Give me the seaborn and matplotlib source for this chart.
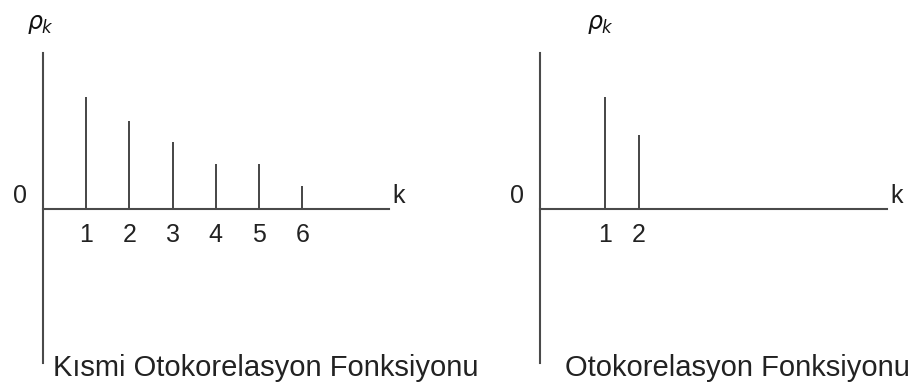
import numpy as np
import pandas as pd
import seaborn as sns
import matplotlib.pyplot as plt

# Werte
pacf_lags = ["1", "2", "3", "4", "5", "6"]
pacf_pos = [1, 2, 3, 4, 5, 6]
pacf_vals = [0.72, 0.57, 0.43, 0.29, 0.29, 0.15]

acf_lags = ["1", "2"]
acf_pos = [1.5, 2.29]
acf_vals = [0.72, 0.48]

titles = ["Kısmi Otokorelasyon Fonksiyonu", "Otokorelasyon Fonksiyonu"]

sns.set_style("white")
plt.rcParams["font.family"] = ["Liberation Sans", "DejaVu Sans"]

line_col = "#4a4a4a"
W, H = 913, 387
fig = plt.figure(figsize=(W / 100, H / 100), dpi=100)

# Achsen in Pixeln: (links, oben, breite, hoehe)
panels = [
    (43, 53, 346, 310, pacf_pos, pacf_lags, pacf_vals, titles[0], 0.23, -0.05),
    (540, 53, 347, 310, acf_pos, acf_lags, acf_vals, titles[1], 0.58, 1.39),
]

for (px, py, pw, ph, pos, lags, vals, title, tx, rx) in panels:
    ax = fig.add_axes([px / W, 1 - (py + ph) / H, pw / W, ph / H])
    df = pd.DataFrame({"pos": pos, "val": vals})
    step = min(np.diff(pos))
    sns.barplot(data=df, x="pos", y="val", native_scale=True,
                width=0.045 / step, color=line_col, edgecolor="none",
                linewidth=0, saturation=1, ax=ax)
    ax.set_xlim(0, pw / 43.2)
    ax.set_ylim(-154 / 155, 156 / 155)
    for s in ["top", "right"]:
        ax.spines[s].set_visible(False)
    for s in ["left", "bottom"]:
        ax.spines[s].set_position(("data", 0))
        ax.spines[s].set_color(line_col)
        ax.spines[s].set_linewidth(1.5)
    ax.set_xticks(pos)
    ax.set_xticklabels(lags)
    ax.set_yticks([])
    ax.tick_params(axis="x", length=0, pad=10, labelsize=18, colors="#222222")
    ax.set_xlabel("")
    ax.set_ylabel("")
    ax.patch.set_alpha(0)
    ax.text(-0.53, 0.084, "0", fontsize=18, ha="center", va="center",
            color="#222222", clip_on=False)
    ax.text(pw / 43.2 + 0.22, 0.084, "k", fontsize=18, ha="center",
            va="center", color="#222222", clip_on=False)
    ax.text(rx, 1.19, r"$\rho_k$", fontsize=17, ha="center", va="center",
            color="#111111", clip_on=False)
    ax.text(tx, -1.077, title, fontsize=21, ha="left", va="baseline",
            color="#222222", clip_on=False)

fig.savefig("out.png", dpi=100)
